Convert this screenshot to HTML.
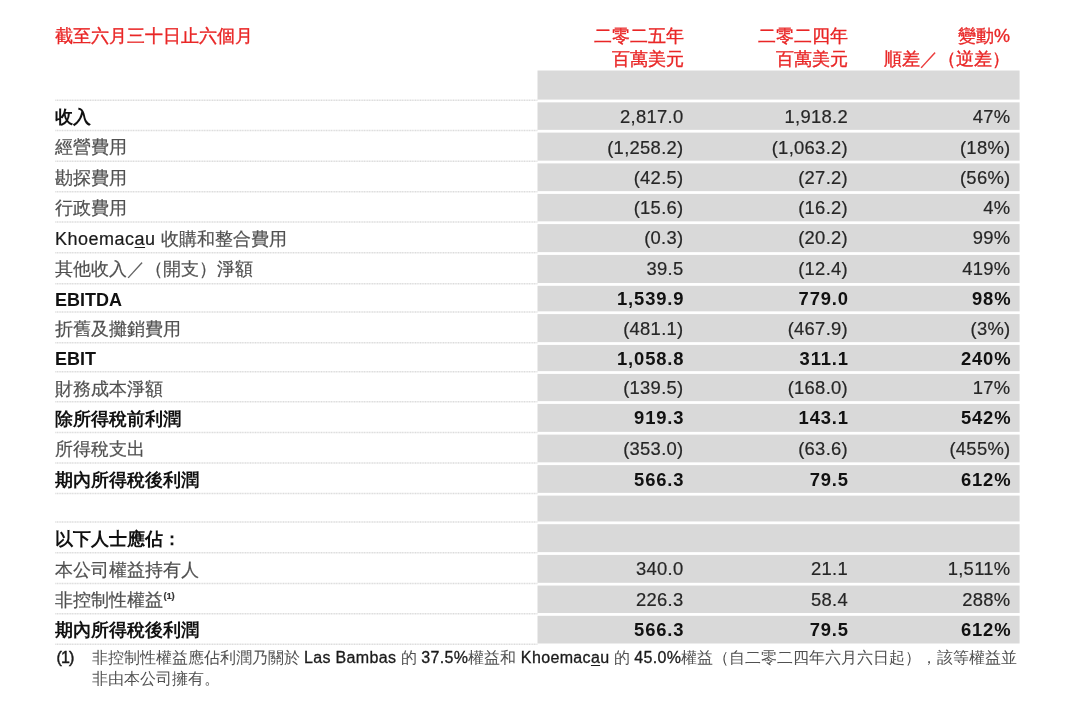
<!DOCTYPE html>
<html lang="zh-Hant">
<head>
<meta charset="utf-8">
<title>Table</title>
<style>
html,body{margin:0;padding:0;background:#fff;}
body{width:1080px;height:714px;position:relative;overflow:hidden;
  font-family:"Liberation Sans",sans-serif;font-size:18px;color:#505050;filter:blur(.45px);}
.hdr{position:absolute;top:24.5px;color:#e92626;-webkit-text-stroke:.35px #e92626;line-height:23.5px;font-size:18px;white-space:nowrap;}
.hdr.l{left:55px;}
.hdr.r{text-align:right;}
#h1{right:396px;} #h2{right:232px;} #h3{right:70px;}
#bg{position:absolute;left:0;top:0;}
.row{position:absolute;left:55px;width:965px;}
.row .lab{position:absolute;left:0;top:50%;margin-top:-12px;line-height:26px;white-space:nowrap;-webkit-text-stroke:.2px #505050;}
.row .n{position:absolute;top:50%;margin-top:-11.5px;line-height:26px;font-size:18.4px;letter-spacing:.3px;text-align:right;white-space:nowrap;color:#262626;-webkit-text-stroke:.2px #262626;}
.row .n1{right:336.5px;} .row .n2{right:172px;} .row .n3{right:9.5px;}
.row.b .lab,.row.b .n{font-weight:bold;color:#111;-webkit-text-stroke:0;}
.row.b .n{letter-spacing:.85px;margin-right:-.85px;margin-top:-11px;}
.row.b0 .n{font-weight:normal;color:#262626;-webkit-text-stroke:.2px #262626;letter-spacing:.3px;margin-right:0;margin-top:-11.5px;}
.foot{position:absolute;left:55px;top:648px;font-size:16px;line-height:20.5px;color:#505050;white-space:nowrap;}
.foot .num{position:absolute;left:1.5px;top:0;color:#1a1a1a;}
.foot .txt{position:absolute;left:36.5px;top:0;}
.lat{color:#1a1a1a;letter-spacing:.5px;-webkit-text-stroke-color:#1a1a1a;}
.foot .lat,.foot .num{letter-spacing:.35px;-webkit-text-stroke:.3px #1a1a1a;}
.foot .num{letter-spacing:-.9px;-webkit-text-stroke:.45px #1a1a1a;}
sup.s{font-size:9.5px;font-weight:bold;vertical-align:7.5px;line-height:0;color:#333;margin-left:.5px;letter-spacing:-.2px;}
u{text-decoration-thickness:1px;text-underline-offset:2px;}

</style>
</head>
<body>
<svg id="bg" width="1080" height="714" viewBox="0 0 1080 714" aria-hidden="true"><rect x="537.5" y="70.5" width="482.1" height="573" fill="#d9d9d9"/><rect x="537" y="99.60" width="483.5" height="2.75" fill="#fff"/><rect x="537" y="129.85" width="483.5" height="2.75" fill="#fff"/><rect x="537" y="160.65" width="483.5" height="2.75" fill="#fff"/><rect x="537" y="191.15" width="483.5" height="2.75" fill="#fff"/><rect x="537" y="221.35" width="483.5" height="2.75" fill="#fff"/><rect x="537" y="252.15" width="483.5" height="2.75" fill="#fff"/><rect x="537" y="283.05" width="483.5" height="2.75" fill="#fff"/><rect x="537" y="311.35" width="483.5" height="2.75" fill="#fff"/><rect x="537" y="342.15" width="483.5" height="2.75" fill="#fff"/><rect x="537" y="371.15" width="483.5" height="2.75" fill="#fff"/><rect x="537" y="401.15" width="483.5" height="2.75" fill="#fff"/><rect x="537" y="431.85" width="483.5" height="2.75" fill="#fff"/><rect x="537" y="462.35" width="483.5" height="2.75" fill="#fff"/><rect x="537" y="492.85" width="483.5" height="2.75" fill="#fff"/><rect x="537" y="521.45" width="483.5" height="2.75" fill="#fff"/><rect x="537" y="552.15" width="483.5" height="2.75" fill="#fff"/><rect x="537" y="582.80" width="483.5" height="2.75" fill="#fff"/><rect x="537" y="613.05" width="483.5" height="2.75" fill="#fff"/><line x1="55.3" y1="100.25" x2="537.5" y2="100.25" stroke="#dcdcdc" stroke-width="1.5" stroke-dasharray="1.1 0.55"/><line x1="55.3" y1="130.50" x2="537.5" y2="130.50" stroke="#dcdcdc" stroke-width="1.5" stroke-dasharray="1.1 0.55"/><line x1="55.3" y1="161.30" x2="537.5" y2="161.30" stroke="#dcdcdc" stroke-width="1.5" stroke-dasharray="1.1 0.55"/><line x1="55.3" y1="191.80" x2="537.5" y2="191.80" stroke="#dcdcdc" stroke-width="1.5" stroke-dasharray="1.1 0.55"/><line x1="55.3" y1="222.00" x2="537.5" y2="222.00" stroke="#dcdcdc" stroke-width="1.5" stroke-dasharray="1.1 0.55"/><line x1="55.3" y1="252.80" x2="537.5" y2="252.80" stroke="#dcdcdc" stroke-width="1.5" stroke-dasharray="1.1 0.55"/><line x1="55.3" y1="283.70" x2="537.5" y2="283.70" stroke="#dcdcdc" stroke-width="1.5" stroke-dasharray="1.1 0.55"/><line x1="55.3" y1="312.00" x2="537.5" y2="312.00" stroke="#dcdcdc" stroke-width="1.5" stroke-dasharray="1.1 0.55"/><line x1="55.3" y1="342.80" x2="537.5" y2="342.80" stroke="#dcdcdc" stroke-width="1.5" stroke-dasharray="1.1 0.55"/><line x1="55.3" y1="371.80" x2="537.5" y2="371.80" stroke="#dcdcdc" stroke-width="1.5" stroke-dasharray="1.1 0.55"/><line x1="55.3" y1="401.80" x2="537.5" y2="401.80" stroke="#dcdcdc" stroke-width="1.5" stroke-dasharray="1.1 0.55"/><line x1="55.3" y1="432.50" x2="537.5" y2="432.50" stroke="#dcdcdc" stroke-width="1.5" stroke-dasharray="1.1 0.55"/><line x1="55.3" y1="463.00" x2="537.5" y2="463.00" stroke="#dcdcdc" stroke-width="1.5" stroke-dasharray="1.1 0.55"/><line x1="55.3" y1="493.50" x2="537.5" y2="493.50" stroke="#dcdcdc" stroke-width="1.5" stroke-dasharray="1.1 0.55"/><line x1="55.3" y1="522.10" x2="537.5" y2="522.10" stroke="#dcdcdc" stroke-width="1.5" stroke-dasharray="1.1 0.55"/><line x1="55.3" y1="552.80" x2="537.5" y2="552.80" stroke="#dcdcdc" stroke-width="1.5" stroke-dasharray="1.1 0.55"/><line x1="55.3" y1="583.45" x2="537.5" y2="583.45" stroke="#dcdcdc" stroke-width="1.5" stroke-dasharray="1.1 0.55"/><line x1="55.3" y1="613.70" x2="537.5" y2="613.70" stroke="#dcdcdc" stroke-width="1.5" stroke-dasharray="1.1 0.55"/><line x1="55.3" y1="644.30" x2="537.5" y2="644.30" stroke="#dcdcdc" stroke-width="1.5" stroke-dasharray="1.1 0.55"/></svg>
<div class="hdr l">截至六月三十日止六個月</div>
<div class="hdr r" id="h1">二零二五年<br>百萬美元</div>
<div class="hdr r" id="h2">二零二四年<br>百萬美元</div>
<div class="hdr r" id="h3">變動%<br>順差／（逆差）</div>
<div class="row b b0" style="top:100px;height:31px"><div class="lab">收入</div><div class="n n1">2,817.0</div><div class="n n2">1,918.2</div><div class="n n3">47%</div></div>
<div class="row" style="top:131px;height:30px"><div class="lab">經營費用</div><div class="n n1">(1,258.2)</div><div class="n n2">(1,063.2)</div><div class="n n3">(18%)</div></div>
<div class="row" style="top:161px;height:30px"><div class="lab" style="margin-top:-11px">勘探費用</div><div class="n n1">(42.5)</div><div class="n n2">(27.2)</div><div class="n n3">(56%)</div></div>
<div class="row" style="top:191px;height:30px"><div class="lab" style="margin-top:-11px">行政費用</div><div class="n n1">(15.6)</div><div class="n n2">(16.2)</div><div class="n n3">4%</div></div>
<div class="row" style="top:221px;height:31px"><div class="lab" style="margin-top:-11px"><span class="lat">Khoemac<u>a</u>u</span> 收購和整合費用</div><div class="n n1">(0.3)</div><div class="n n2">(20.2)</div><div class="n n3">99%</div></div>
<div class="row" style="top:252px;height:31px"><div class="lab" style="margin-top:-11.5px">其他收入／（開支）淨額</div><div class="n n1">39.5</div><div class="n n2">(12.4)</div><div class="n n3">419%</div></div>
<div class="row b" style="top:283px;height:29px"><div class="lab" style="margin-top:-11px">EBITDA</div><div class="n n1" style="margin-top:-12px">1,539.9</div><div class="n n2" style="margin-top:-12px">779.0</div><div class="n n3" style="margin-top:-12px">98%</div></div>
<div class="row" style="top:312px;height:30px"><div class="lab" style="margin-top:-11px">折舊及攤銷費用</div><div class="n n1">(481.1)</div><div class="n n2">(467.9)</div><div class="n n3">(3%)</div></div>
<div class="row b" style="top:342px;height:29px"><div class="lab" style="margin-top:-11px">EBIT</div><div class="n n1">1,058.8</div><div class="n n2">311.1</div><div class="n n3">240%</div></div>
<div class="row" style="top:371px;height:31px"><div class="lab" style="margin-top:-11px">財務成本淨額</div><div class="n n1">(139.5)</div><div class="n n2">(168.0)</div><div class="n n3">17%</div></div>
<div class="row b" style="top:402px;height:30px"><div class="lab" style="margin-top:-11px">除所得稅前利潤</div><div class="n n1" style="margin-top:-12px">919.3</div><div class="n n2" style="margin-top:-12px">143.1</div><div class="n n3" style="margin-top:-12px">542%</div></div>
<div class="row" style="top:432px;height:30px"><div class="lab" style="margin-top:-11px">所得稅支出</div><div class="n n1">(353.0)</div><div class="n n2">(63.6)</div><div class="n n3">(455%)</div></div>
<div class="row b" style="top:462px;height:31px"><div class="lab" style="margin-top:-11px">期內所得稅後利潤</div><div class="n n1">566.3</div><div class="n n2">79.5</div><div class="n n3">612%</div></div>
<div class="row" style="top:493px;height:29px"></div>
<div class="row b" style="top:522px;height:30px"><div class="lab" style="margin-top:-11px">以下人士應佔：</div></div>
<div class="row" style="top:552px;height:31px"><div class="lab" style="margin-top:-11px">本公司權益持有人</div><div class="n n1">340.0</div><div class="n n2">21.1</div><div class="n n3">1,511%</div></div>
<div class="row" style="top:583px;height:30px"><div class="lab" style="margin-top:-11px">非控制性權益<sup class="s">(1)</sup></div><div class="n n1">226.3</div><div class="n n2">58.4</div><div class="n n3">288%</div></div>
<div class="row b" style="top:613px;height:30px"><div class="lab" style="margin-top:-11px">期內所得稅後利潤</div><div class="n n1">566.3</div><div class="n n2">79.5</div><div class="n n3">612%</div></div>
<div class="foot"><span class="num">(1)</span><div class="txt">非控制性權益應佔利潤乃關於 <span class="lat">Las Bambas</span> 的 <span class="lat">37.5%</span>權益和 <span class="lat">Khoemac<u>a</u>u</span> 的 <span class="lat">45.0%</span>權益（自二零二四年六月六日起），該等權益並<br>非由本公司擁有。</div></div>
</body>
</html>
